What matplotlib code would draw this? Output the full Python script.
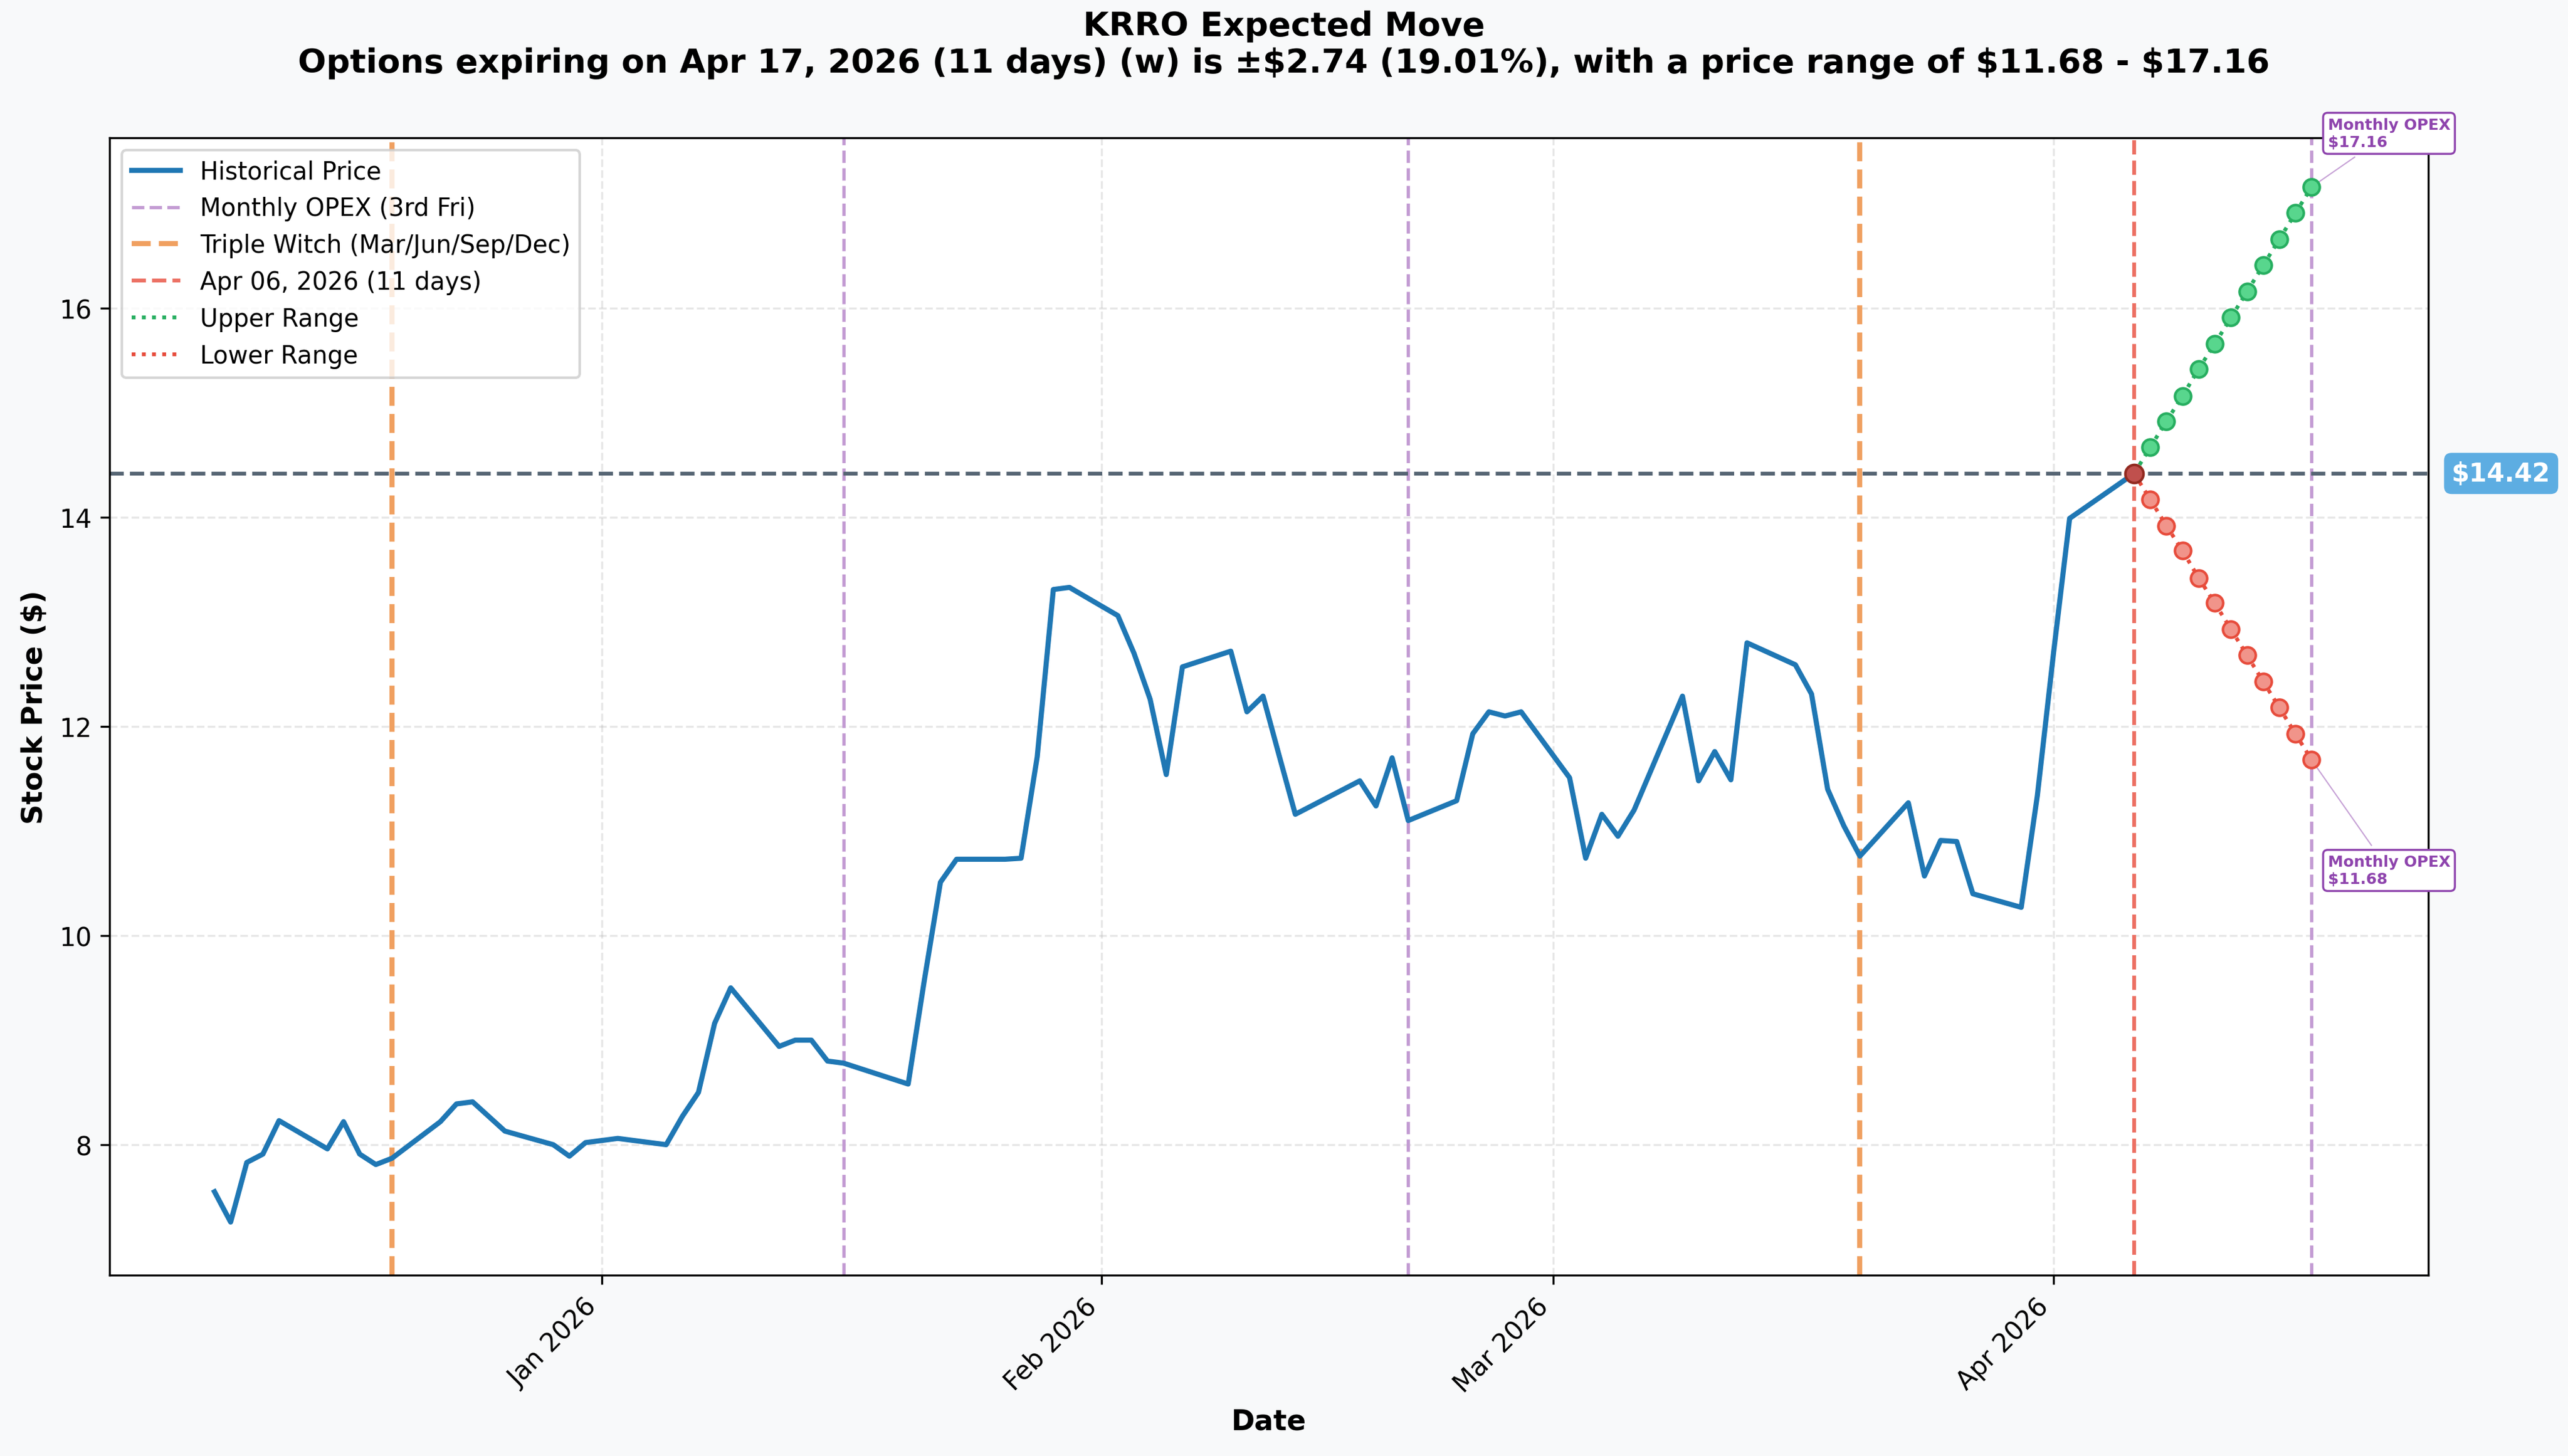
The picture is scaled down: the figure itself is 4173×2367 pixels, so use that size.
import matplotlib
matplotlib.use("Agg")
import matplotlib.pyplot as plt
import matplotlib.dates as mdates
import pandas as pd

hist_dates = ["2025-12-08","2025-12-09","2025-12-10","2025-12-11","2025-12-12","2025-12-15","2025-12-16","2025-12-17","2025-12-18","2025-12-19",
"2025-12-22","2025-12-23","2025-12-24","2025-12-26","2025-12-29","2025-12-30","2025-12-31","2026-01-02","2026-01-05","2026-01-06",
"2026-01-07","2026-01-08","2026-01-09","2026-01-12","2026-01-13","2026-01-14","2026-01-15","2026-01-16","2026-01-20","2026-01-21",
"2026-01-22","2026-01-23","2026-01-26","2026-01-27","2026-01-28","2026-01-29","2026-01-30","2026-02-02","2026-02-03","2026-02-04",
"2026-02-05","2026-02-06","2026-02-09","2026-02-10","2026-02-11","2026-02-12","2026-02-13","2026-02-17","2026-02-18","2026-02-19",
"2026-02-20","2026-02-23","2026-02-24","2026-02-25","2026-02-26","2026-02-27","2026-03-02","2026-03-03","2026-03-04","2026-03-05",
"2026-03-06","2026-03-09","2026-03-10","2026-03-11","2026-03-12","2026-03-13","2026-03-16","2026-03-17","2026-03-18","2026-03-19",
"2026-03-20","2026-03-23","2026-03-24","2026-03-25","2026-03-26","2026-03-27","2026-03-30","2026-03-31","2026-04-01","2026-04-02",
"2026-04-06"]
hist_prices = [7.55,7.26,7.83,7.91,8.23,7.96,8.22,7.91,7.81,7.87,
8.22,8.39,8.41,8.13,8.00,7.89,8.02,8.06,8.00,8.27,
8.50,9.16,9.50,8.94,9.00,9.00,8.80,8.78,8.58,9.57,
10.51,10.73,10.73,10.74,11.71,13.31,13.33,13.06,12.70,12.26,
11.54,12.57,12.72,12.14,12.29,11.72,11.16,11.48,11.24,11.70,
11.10,11.29,11.93,12.14,12.10,12.14,11.51,10.74,11.16,10.95,
11.20,12.29,11.48,11.76,11.49,12.80,12.59,12.31,11.40,11.05,
10.76,11.27,10.57,10.91,10.90,10.40,10.27,11.34,12.70,13.99,
14.42]
proj_dates = ["2026-04-06","2026-04-07","2026-04-08","2026-04-09","2026-04-10","2026-04-11","2026-04-12","2026-04-13","2026-04-14","2026-04-15","2026-04-16","2026-04-17"]
upper = [14.42,14.67,14.92,15.16,15.42,15.66,15.91,16.16,16.41,16.66,16.91,17.16]
lower = [14.42,14.17,13.92,13.68,13.42,13.18,12.93,12.68,12.43,12.18,11.93,11.68]
monthly_opex = ["2026-01-16","2026-02-20","2026-04-17"]
triple_witch = ["2025-12-19","2026-03-20"]
current_date = "2026-04-06"
current_price = 14.42

hd = pd.to_datetime(hist_dates); pd_ = pd.to_datetime(proj_dates)
fig = plt.figure(figsize=(13.91, 7.893), dpi=300, facecolor="#f8f9fa")
ax = fig.add_axes([0.0427, 0.124, 0.903, 0.781])
ax.set_facecolor("white")
ax.plot(hd, hist_prices, color="#1f77b4", lw=2, label="Historical Price", zorder=3)
for i, d in enumerate(monthly_opex):
    ax.axvline(pd.Timestamp(d), color="#c39bd3", ls="--", lw=1.3, label="Monthly OPEX (3rd Fri)" if i == 0 else None)
for i, d in enumerate(triple_witch):
    ax.axvline(pd.Timestamp(d), color="#f0a060", ls="--", lw=2, label="Triple Witch (Mar/Jun/Sep/Dec)" if i == 0 else None)
ax.axvline(pd.Timestamp(current_date), color="#ec7063", ls="--", lw=1.5, label="Apr 06, 2026 (11 days)")
ax.axhline(current_price, color="#566573", ls="--", lw=1.5)
ax.plot(pd_, upper, color="#27ae60", ls=":", lw=1.5, label="Upper Range")
ax.plot(pd_, lower, color="#e74c3c", ls=":", lw=1.5, label="Lower Range")
ax.scatter(pd_[1:], upper[1:], color="#58d68d", edgecolor="#27ae60", s=40, zorder=4)
ax.scatter(pd_[1:], lower[1:], color="#f1948a", edgecolor="#e74c3c", s=40, zorder=4)
ax.scatter([pd_[0]], [current_price], color="#c0504d", edgecolor="#922b21", s=50, zorder=5)
bbox = dict(boxstyle="round,pad=0.3", fc="white", ec="#8e44ad", lw=0.8)
ax.annotate(f"Monthly OPEX\n${upper[-1]:.2f}", xy=(pd_[-1], upper[-1]), xytext=(pd.Timestamp("2026-04-18"), 17.55),
            fontsize=6, color="#8e44ad", fontweight="bold", bbox=bbox,
            arrowprops=dict(arrowstyle="-", color="#8e44ad", lw=0.5, alpha=0.5))
ax.annotate(f"Monthly OPEX\n${lower[-1]:.2f}", xy=(pd_[-1], lower[-1]), xytext=(pd.Timestamp("2026-04-18"), 10.5),
            fontsize=6, color="#8e44ad", fontweight="bold", bbox=bbox,
            arrowprops=dict(arrowstyle="-", color="#8e44ad", lw=0.5, alpha=0.5))
ax.text(1.01, current_price, f"${current_price:.2f}", transform=ax.get_yaxis_transform(), va="center", ha="left",
        color="white", fontweight="bold", fontsize=10, bbox=dict(boxstyle="round,pad=0.3", fc="#5dade2", ec="none"))
ax.set_xlim(pd.Timestamp("2025-12-01 12:00"), pd.Timestamp("2026-04-24 06:00"))
ax.set_ylim(6.75, 17.63)
ax.set_yticks([8, 10, 12, 14, 16])
ax.xaxis.set_major_locator(mdates.MonthLocator())
ax.xaxis.set_major_formatter(mdates.DateFormatter("%b %Y"))
plt.setp(ax.get_xticklabels(), rotation=45, ha="right")
ax.grid(True, ls="--", alpha=0.3)
ax.set_xlabel("Date", fontweight="bold", fontsize=11)
ax.set_ylabel("Stock Price ($)", fontweight="bold", fontsize=11)
ax.legend(loc="upper left", fontsize=9.5)
fig.suptitle("KRRO Expected Move\nOptions expiring on Apr 17, 2026 (11 days) (w) is ±$2.74 (19.01%), with a price range of $11.68 - $17.16",
             fontweight="bold", fontsize=13, y=0.993)
fig.savefig("out.png", facecolor=fig.get_facecolor())
